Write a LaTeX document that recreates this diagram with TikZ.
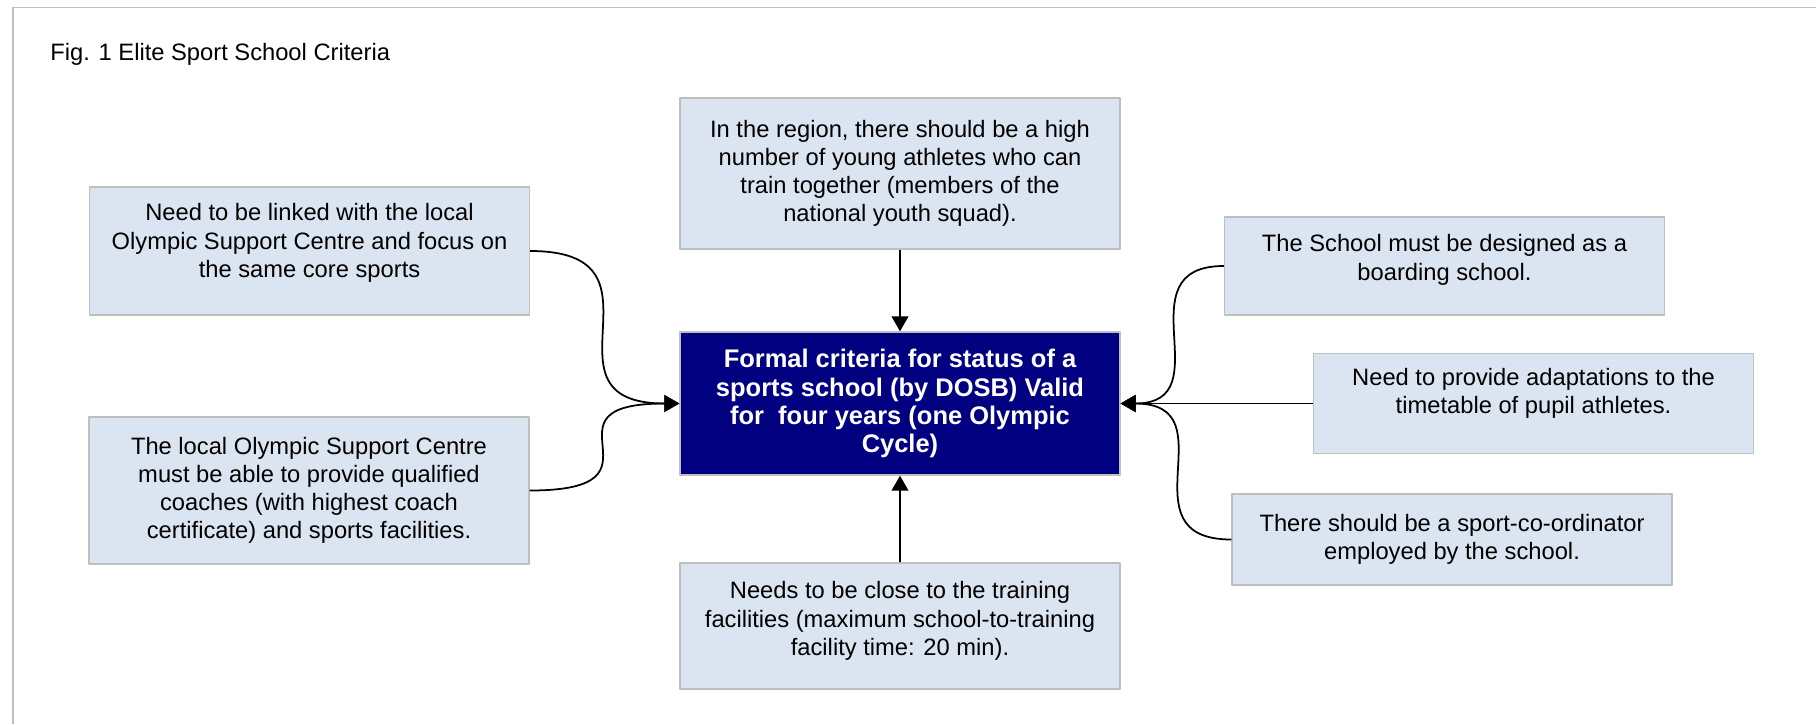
\documentclass[tikz,border=0pt]{standalone}
\usepackage{fontspec}
\setmainfont{Liberation Sans}
\usetikzlibrary{arrows.meta}
\definecolor{boxfill}{HTML}{DBE5F1}
\definecolor{boxline}{HTML}{BFBFBF}
\definecolor{navy}{HTML}{000080}

\begin{document}
\begin{tikzpicture}[x=0.02cm, y=-0.02cm, line join=round, >={Triangle[length=8.5pt,width=9.5pt]},
		font=\fontsize{13.5}{16}\selectfont,
		criterion/.style={draw=boxline, line width=0.8pt, fill=boxfill, align=center, minimum width=8.8cm, inner sep=2pt},
		centrebox/.style={criterion, fill=navy, text=white, font=\fontsize{14.5}{16}\selectfont\bfseries},
		% deepens the last line, so the text sits higher in its box
		lifted/.style={execute at end node={\rule[-#1]{0pt}{#1}}},
		feed/.style={->, line width=1pt}]
		\useasboundingbox (0,0) rectangle (1816,724);
		\draw[boxline, line width=1.1pt] (1816,7.5) -- (13,7.5) -- (13,724);
		\node[anchor=base west, inner sep=0pt] (title) at (50,60) {Fig. 1 Elite Sport School Criteria};
		% centre and the seven criteria round it
		\node[centrebox, minimum height=2.86cm] (centre) at (900,403.5) {Formal criteria for status of a\\ sports school (by DOSB) Valid\\ for~ four years (one Olympic\\ Cycle)};
		\node[criterion, minimum height=3.02cm] (region) at (900,173.5) {In the region, there should be a high\\ number of young athletes who can\\ train together (members of the\\ national youth squad).};
		\node[criterion, lifted=8.6pt, minimum height=2.52cm] (close) at (900,626) {Needs to be close to the training\\ facilities (maximum school-to-training\\ facility time: 20 min).};
		\node[criterion, lifted=12pt, minimum height=2.56cm] (linked) at (309.5,251) {Need to be linked with the local\\ Olympic Support Centre and focus on\\ the same core sports};
		\node[criterion, minimum height=2.94cm] (coaches) at (309,490.5) {The local Olympic Support Centre\\ must be able to provide qualified\\ coaches (with highest coach\\ certificate) and sports facilities.};
		\node[criterion, lifted=9.8pt, minimum height=1.96cm] (boarding) at (1444.5,266) {The School must be designed as a\\ boarding school.};
		\node[criterion, lifted=14.4pt, minimum height=2cm] (timetable) at (1533.5,403.5) {Need to provide adaptations to the\\ timetable of pupil athletes.};
		\node[criterion, minimum height=1.82cm] (coord) at (1452,539.5) {There should be a sport-co-ordinator\\ employed by the school.};
		% arrows into the centre
		\draw[feed] (region) -- (centre);
		\draw[feed] (close) -- (centre);
		\draw[feed] (timetable) -- (centre);
		\draw[feed] (linked.east) .. controls (linked.east -| centre.west) and (linked.east |- centre.west) .. (centre.west);
		\draw[feed] (coaches.east) .. controls (coaches.east -| centre.west) and (coaches.east |- centre.west) .. (centre.west);
		\draw[feed] (boarding.west) .. controls (boarding.west -| centre.east) and (boarding.west |- centre.east) .. (centre.east);
		\draw[feed] (coord.west) .. controls (coord.west -| centre.east) and (coord.west |- centre.east) .. (centre.east);
	\end{tikzpicture}
\end{document}
